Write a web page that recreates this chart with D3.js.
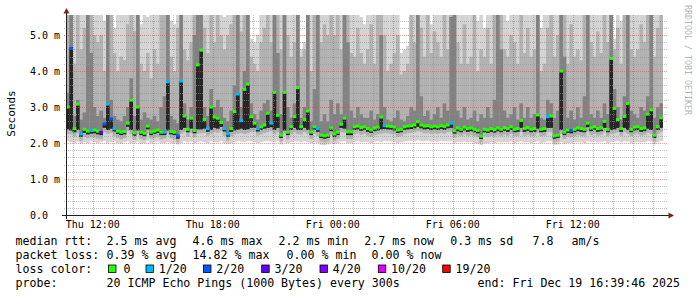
<!DOCTYPE html>
<meta charset="utf-8">
<style>
body { margin: 0; background: #fff; }
text { font-family: "DejaVu Sans Mono", monospace; fill: #000; }
</style>
<svg width="697" height="297" id="chart"></svg>
<script src="https://d3js.org/d3.v7.min.js"></script>
<script>
// 10 minute steps, Thu Dec 18 2025 10:39:46 onwards
var median = [3.00,4.63,2.40,3.08,2.25,2.38,2.33,2.35,2.36,2.33,
  2.30,2.53,3.08,2.67,2.40,2.33,2.30,2.32,2.55,3.19,
  2.28,3.00,2.30,2.27,2.47,2.30,2.33,2.36,2.30,2.30,
  3.70,2.32,2.30,2.20,3.72,2.75,2.38,2.69,2.35,4.17,
  4.58,2.65,2.40,3.00,2.72,2.69,2.57,2.40,2.25,2.40,
  2.87,3.36,2.62,3.49,3.64,2.73,2.55,2.40,2.45,2.50,
  2.83,2.55,3.41,2.77,2.22,3.41,2.30,2.45,2.73,3.54,
  2.45,2.65,2.89,2.30,2.45,2.40,2.22,2.20,2.22,2.42,
  2.25,2.30,2.52,2.69,2.31,2.31,2.45,2.47,2.43,2.45,
  2.40,2.36,2.42,2.44,2.72,2.48,2.47,2.46,2.44,2.36,
  2.38,2.45,2.47,2.48,2.50,2.59,2.50,2.47,2.48,2.45,
  2.47,2.45,2.48,2.46,2.50,2.55,2.34,2.42,2.38,2.44,
  2.40,2.42,2.38,2.35,2.19,2.38,2.36,2.40,2.37,2.42,
  2.38,2.43,2.40,2.45,2.38,2.40,2.63,2.40,2.43,2.38,
  2.40,2.78,2.38,2.40,2.73,2.75,2.20,2.22,4.00,2.30,
  2.36,2.35,2.38,2.42,2.40,2.38,2.55,2.42,2.45,2.40,
  2.42,2.60,2.38,4.35,2.96,2.65,2.40,2.74,3.10,2.38,
  2.44,2.45,2.40,2.42,2.80,2.92,2.22,2.45,2.70];

var loss = [0,2,0,0,1,0,0,1,0,0, 3,2,1,2,1,0,0,0,0,0, 0,0,0,0,0,0,0,0,0,1,
  1,0,0,2,1,0,0,0,0,0, 0,0,1,0,0,0,0,1,1,0, 0,1,1,0,0,0,0,1,0,0,
  0,1,0,0,0,0,0,0,0,0, 0,0,0,0,0,1,0,0,0,0, 0,0,0,0,0,0,0,0,0,0,
  0,0,0,0,0,1,0,0,0,0, 0,0,0,0,0,0,0,0,0,0, 0,0,0,0,0,1,0,0,0,0,
  0,0,0,0,0,0,0,0,0,0, 0,0,0,0,0,0,0,0,0,0, 0,0,0,0,1,0,0,0,0,0,
  0,2,0,0,0,0,0,0,0,0, 0,0,0,0,0,0,0,0,0,0, 0,0,0,0,0,0,0,0,0];

// smoke: ping distribution per step (ms)
var lo = [2.05,2.02,2.0,2.04,1.98,2.03,2.0,2.05,2.02,2.0,
  2.02,2.06,2.0,2.03,2.05,2.0,1.98,2.02,2.05,2.0,
  2.0,2.04,1.98,2.0,2.06,2.0,2.02,2.04,2.0,2.0,
  2.03,2.0,2.0,1.96,2.0,2.05,2.02,2.04,2.0,2.02,
  2.04,2.02,2.0,2.06,2.03,2.02,2.05,2.0,1.97,2.0,
  2.02,2.05,2.04,2.03,2.06,2.05,2.02,2.0,2.03,2.05,
  2.05,2.04,2.02,2.06,1.96,2.03,2.0,2.02,2.05,2.04,
  2.03,2.05,2.02,2.0,2.02,2.0,1.95,1.94,1.96,2.0,
  1.97,2.0,2.04,2.05,2.0,2.0,2.03,2.05,2.02,2.03,
  2.03,2.0,2.04,2.05,2.03,2.06,2.05,2.04,2.03,2.0,
  2.02,2.04,2.05,2.06,2.05,2.07,2.05,2.05,2.06,2.04,
  2.05,2.04,2.06,2.05,2.05,2.06,2.0,2.03,2.02,2.04,
  2.02,2.03,2.0,1.98,1.94,2.0,2.0,2.02,2.0,2.03,
  2.02,2.03,2.02,2.04,2.0,2.02,2.05,2.02,2.03,2.0,
  2.02,2.05,2.0,2.02,2.05,2.05,1.95,1.96,2.03,1.98,
  2.0,2.0,2.02,2.03,2.02,2.0,2.05,2.03,2.04,2.02,
  2.03,2.05,2.0,2.03,2.04,2.05,2.02,2.05,2.04,2.0,
  2.02,2.03,2.02,2.02,2.05,2.04,1.96,2.02,2.05];

var q1 = [2.25,2.24,2.18,2.26,2.06,2.17,2.13,2.16,2.15,2.12,
  2.10,2.30,2.25,2.28,2.20,2.14,2.10,2.13,2.33,2.24,
  2.09,2.24,2.11,2.08,2.26,2.12,2.13,2.17,2.10,2.12,
  2.24,2.13,2.10,2.02,2.25,2.30,2.18,2.28,2.16,2.26,
  2.27,2.28,2.20,2.24,2.30,2.28,2.33,2.20,2.06,2.19,
  2.24,2.26,2.28,2.25,2.27,2.30,2.31,2.21,2.24,2.28,
  2.30,2.33,2.24,2.30,2.04,2.24,2.10,2.24,2.30,2.25,
  2.24,2.30,2.25,2.11,2.25,2.20,2.04,2.02,2.04,2.22,
  2.06,2.11,2.30,2.28,2.11,2.10,2.24,2.27,2.22,2.25,
  2.20,2.17,2.22,2.24,2.26,2.28,2.27,2.25,2.24,2.17,
  2.19,2.25,2.27,2.28,2.30,2.33,2.30,2.27,2.28,2.25,
  2.27,2.25,2.28,2.26,2.30,2.31,2.15,2.22,2.19,2.24,
  2.20,2.22,2.19,2.16,2.01,2.19,2.17,2.20,2.18,2.22,
  2.19,2.23,2.20,2.25,2.19,2.20,2.30,2.20,2.23,2.19,
  2.20,2.28,2.19,2.20,2.30,2.30,2.02,2.04,2.25,2.11,
  2.17,2.16,2.19,2.22,2.20,2.19,2.32,2.22,2.25,2.20,
  2.22,2.30,2.19,2.25,2.27,2.30,2.20,2.30,2.25,2.19,
  2.24,2.25,2.20,2.22,2.28,2.25,2.04,2.25,2.30];

var p45 = [2.38,2.35,2.30,2.36,2.17,2.28,2.24,2.26,2.27,2.24,
  2.22,2.42,2.36,2.40,2.32,2.25,2.22,2.24,2.45,2.36,
  2.20,2.35,2.22,2.19,2.38,2.22,2.25,2.28,2.22,2.22,
  2.35,2.24,2.22,2.12,2.36,2.42,2.30,2.40,2.27,2.38,
  2.38,2.40,2.31,2.36,2.42,2.40,2.45,2.32,2.17,2.31,
  2.35,2.37,2.40,2.36,2.38,2.42,2.42,2.32,2.36,2.40,
  2.42,2.44,2.36,2.42,2.14,2.35,2.22,2.36,2.42,2.36,
  2.36,2.42,2.36,2.22,2.36,2.31,2.14,2.12,2.14,2.33,
  2.17,2.22,2.42,2.40,2.22,2.22,2.36,2.38,2.34,2.36,
  2.31,2.28,2.33,2.35,2.38,2.39,2.38,2.37,2.35,2.28,
  2.30,2.36,2.38,2.39,2.41,2.45,2.41,2.38,2.39,2.36,
  2.38,2.36,2.39,2.37,2.41,2.42,2.26,2.33,2.30,2.35,
  2.31,2.33,2.30,2.27,2.11,2.30,2.28,2.31,2.29,2.33,
  2.30,2.34,2.31,2.36,2.30,2.31,2.42,2.31,2.34,2.30,
  2.31,2.40,2.30,2.31,2.42,2.42,2.12,2.14,2.36,2.22,
  2.28,2.27,2.30,2.33,2.31,2.30,2.44,2.33,2.36,2.31,
  2.33,2.42,2.30,2.36,2.38,2.42,2.31,2.42,2.36,2.30,
  2.35,2.36,2.31,2.33,2.40,2.36,2.14,2.36,2.42];

var q3 = [3.4,6.0,2.75,3.2,2.65,2.85,6.0,4.5,3.0,2.75,
  2.9,2.7,6.0,3.2,2.75,2.65,2.6,2.75,3.0,3.8,
  2.75,6.0,2.65,2.85,2.7,2.65,2.75,2.6,3.0,3.3,
  6.0,2.75,2.65,2.55,6.0,3.1,2.65,3.0,5.0,6.0,
  6.0,3.0,2.75,3.5,3.0,3.2,3.0,2.7,2.6,2.9,
  3.6,6.0,3.0,4.0,6.0,3.1,2.8,2.65,2.9,3.1,
  3.2,2.9,6.0,4.5,2.8,6.0,3.0,2.7,3.1,6.0,
  2.7,3.0,6.0,2.6,3.5,6.0,2.6,2.8,2.6,3.2,
  2.8,3.1,2.8,6.0,4.8,2.9,2.7,3.0,2.8,2.7,
  2.7,2.9,2.65,2.8,5.0,3.0,2.65,2.6,2.7,2.9,
  2.65,2.6,2.75,3.0,2.9,6.0,3.3,2.75,2.9,2.65,
  2.8,3.0,2.7,3.1,2.9,5.5,6.0,2.9,2.7,3.0,
  2.65,2.7,2.9,2.6,2.8,2.7,3.0,2.7,3.2,6.0,
  4.6,2.9,2.7,2.8,3.0,2.65,3.1,2.7,3.0,2.7,
  2.8,6.0,2.7,2.65,3.2,3.1,2.7,2.9,6.0,4.4,
  2.7,2.9,2.65,3.0,2.7,3.3,6.0,2.8,2.7,2.9,
  2.7,3.1,2.8,6.0,3.5,3.0,2.65,3.3,6.0,2.9,
  2.8,2.7,3.0,2.9,3.3,6.0,2.7,3.0,3.1];

var p90 = [6.0,6.0,4.2,6.0,4.6,5.2,6.0,6.0,5.0,4.8,
  5.0,4.0,6.0,6.0,4.5,4.0,4.4,4.3,5.3,6.0,
  5.1,6.0,4.2,4.0,4.5,3.8,4.6,4.2,6.0,6.0,
  6.0,4.4,4.0,5.2,6.0,4.6,4.3,4.8,6.0,6.0,
  6.0,5.2,4.5,6.0,4.8,6.0,5.0,4.6,5.0,5.3,
  6.0,6.0,5.1,6.0,6.0,4.4,4.2,4.0,4.8,5.2,
  6.0,4.8,6.0,6.0,4.6,6.0,5.0,4.4,4.8,6.0,
  4.4,4.6,6.0,4.0,6.0,6.0,4.8,5.3,5.0,6.0,
  5.0,6.0,4.6,6.0,6.0,4.5,4.4,5.2,4.5,4.2,
  4.6,5.3,4.2,6.0,6.0,5.0,4.0,4.2,4.5,5.0,
  3.9,4.0,4.2,6.0,4.8,6.0,5.2,4.4,6.0,4.5,
  5.1,4.8,4.4,6.0,4.6,6.0,6.0,4.8,4.2,5.3,
  4.2,4.4,6.0,4.0,4.6,4.4,5.2,4.2,6.0,6.0,
  6.0,4.6,4.4,5.0,4.8,4.2,6.0,4.5,5.2,4.4,
  4.6,6.0,4.0,4.2,5.2,6.0,4.4,5.0,6.0,6.0,
  4.2,5.3,4.4,4.6,4.3,6.0,6.0,4.8,4.4,5.1,
  4.5,6.0,4.8,6.0,4.6,5.2,4.2,6.0,6.0,4.6,
  4.4,4.6,5.3,4.8,6.0,6.0,4.4,5.2,6.0];

var hi = [6.0,6.0,6.0,6.0,6.0,6.0,6.0,6.0,6.0,6.0,
  6.0,5.4,6.0,6.0,5.2,6.0,6.0,6.0,6.0,6.0,
  6.0,6.0,5.3,6.0,5.5,6.0,6.0,6.0,6.0,6.0,
  6.0,5.4,5.3,6.0,6.0,6.0,6.0,6.0,6.0,6.0,
  6.0,6.0,6.0,6.0,6.0,6.0,6.0,5.5,6.0,6.0,
  6.0,6.0,6.0,6.0,6.0,4.9,4.8,5.0,6.0,6.0,
  6.0,6.0,6.0,6.0,6.0,6.0,6.0,6.0,5.6,6.0,
  4.6,4.8,6.0,6.0,6.0,6.0,6.0,6.0,6.0,6.0,
  6.0,6.0,6.0,6.0,6.0,6.0,6.0,6.0,5.5,5.3,
  6.0,6.0,6.0,6.0,6.0,6.0,6.0,5.8,6.0,6.0,
  4.5,4.6,4.7,6.0,6.0,6.0,6.0,6.0,6.0,5.3,
  6.0,6.0,6.0,6.0,6.0,6.0,6.0,6.0,6.0,6.0,
  5.6,6.0,6.0,5.4,6.0,5.2,6.0,6.0,6.0,6.0,
  6.0,6.0,5.4,6.0,6.0,6.0,6.0,6.0,6.0,6.0,
  6.0,6.0,5.2,6.0,6.0,6.0,6.0,6.0,6.0,6.0,
  6.0,6.0,6.0,6.0,5.6,6.0,6.0,6.0,6.0,6.0,
  6.0,6.0,6.0,6.0,4.9,6.0,5.4,6.0,6.0,6.0,
  6.0,5.8,6.0,6.0,6.0,6.0,6.0,6.0,6.0];

var lossSteps = [0, 1, 2, 3, 4, 10, 19];
var lossLabels = ["0", "1/20", "2/20", "3/20", "4/20", "10/20", "19/20"];
var lossColors = ["#26ff00", "#00b8ff", "#0059ff", "#5e00ff", "#7e00ff", "#dd00ff", "#ff0000"];
var yTicks = [0, 1, 2, 3, 4, 5];
var rttStats = ["2.5 ms avg", "4.6 ms max", "2.2 ms min", "2.7 ms now", "0.3 ms sd", "7.8", "am/s"];
var lossStats = ["0.39 % avg", "14.82 % max", "0.00 % min", "0.00 % now"];
var probeText = "20 ICMP Echo Pings (1000 Bytes) every 300s";
var endText = "end: Fri Dec 19 16:39:46 2025";

var svg = d3.select("#chart");
var start = new Date(Date.UTC(2025, 11, 18, 10, 39, 46));
var end = new Date(Date.UTC(2025, 11, 19, 16, 39, 46));
var step = 600000;

var x = d3.scaleUtc().domain([start, end]).range([66, 666]);
var y = d3.scaleLinear().domain([0, 200 / 36]).range([215, 15]);

svg.append("rect").attr("width", 697).attr("height", 297).attr("fill", "#fff");

svg.append("clipPath").attr("id", "plot")
  .append("rect").attr("x", 66).attr("y", 15).attr("width", 600).attr("height", 200);

var smoke = svg.append("g").attr("clip-path", "url(#plot)");
var cols = median.map(function(m, i) {
  var t = new Date(start.getTime() + i * step);
  return {x0: x(t), x1: x(new Date(t.getTime() + step)), i: i};
});

// smoke layers, widest range lightest
var layers = [
  {a: lo, b: hi, c: "#d3d3d3"},
  {a: q1, b: p90, c: "#b2b2b2"},
  {a: p45, b: q3, c: "#828282"},
  {a: p45, b: median, c: "#262626"}
];
layers.forEach(function(l) {
  smoke.selectAll(null).data(cols).enter().append("rect")
    .attr("x", d => d.x0)
    .attr("width", d => d.x1 - d.x0 + 0.3)
    .attr("y", d => y(l.b[d.i]))
    .attr("height", d => Math.max(0, y(l.a[d.i]) - y(l.b[d.i])))
    .attr("fill", l.c);
});

// grid
var grid = svg.append("g").attr("stroke-dasharray", "1,1").attr("stroke-width", 1);
d3.range(1, 28).forEach(function(k) {
  var v = k / 5;
  var major = k % 5 === 0;
  grid.append("line")
    .attr("x1", 64).attr("x2", 668)
    .attr("y1", Math.round(y(v)) + 0.5).attr("y2", Math.round(y(v)) + 0.5)
    .attr("stroke", major ? "rgba(222,79,79,0.55)" : "rgba(143,143,143,0.55)");
});
d3.utcHour.every(1).range(start, end).forEach(function(t) {
  var major = t.getUTCHours() % 3 === 0;
  var px = Math.round(x(t)) + 0.5;
  grid.append("line")
    .attr("x1", px).attr("x2", px)
    .attr("y1", 15).attr("y2", 219)
    .attr("stroke", major ? "rgba(222,79,79,0.55)" : "rgba(143,143,143,0.55)");
});

// median marks coloured by loss
function lossColor(k) {
  var j = 0;
  lossSteps.forEach(function(s, n) { if (k >= s) j = n; });
  return lossColors[j];
}
svg.append("g").attr("clip-path", "url(#plot)")
  .selectAll("rect").data(cols).enter().append("rect")
  .attr("x", d => d.x0)
  .attr("width", d => d.x1 - d.x0 + 0.3)
  .attr("y", d => y(median[d.i]) - 1.5)
  .attr("height", 3)
  .attr("fill", d => lossColor(loss[d.i]));

// axes
svg.append("line").attr("x1", 66.5).attr("x2", 66.5).attr("y1", 219).attr("y2", 12)
  .attr("stroke", "#1f1f1f");
svg.append("line").attr("x1", 62).attr("x2", 670).attr("y1", 215.5).attr("y2", 215.5)
  .attr("stroke", "#1f1f1f");
svg.append("path").attr("d", "M63.5,13.5L66.5,8L69.5,13.5Z").attr("fill", "#801f1f");
svg.append("path").attr("d", "M668.5,212.5L674,215.5L668.5,218.5Z").attr("fill", "#801f1f");

svg.append("g").selectAll("text").data(yTicks).enter().append("text")
  .attr("x", 30).attr("y", d => y(d) + 4)
  .style("font-size", "10px")
  .text(d => d === 0 ? "0.0" : d.toFixed(1) + " m");

var fmt = d3.utcFormat("%a %H:%M");
svg.append("g").selectAll("text").data(d3.utcHour.every(6).range(start, end)).enter().append("text")
  .attr("x", d => x(d)).attr("y", 227.5)
  .attr("text-anchor", "middle")
  .style("font-size", "10px")
  .text(d => fmt(d));

svg.append("text")
  .attr("transform", "translate(15,113.5) rotate(-90)")
  .attr("text-anchor", "middle")
  .style("font-size", "11px")
  .text("Seconds");

svg.append("text")
  .attr("transform", "translate(684.5,5) rotate(90)")
  .style("font-size", "8.3px")
  .style("fill", "#b4b4b4")
  .text("RRDTOOL / TOBI OETIKER");

// legend
var leg = svg.append("g").style("font-size", "11.6px").attr("xml:space", "preserve");
function put(tx, px, py) {
  leg.append("text").attr("x", px).attr("y", py).text(tx);
}
put("median rtt:", 15.5, 244.5);
[106.6, 192.6, 278.6, 364.3, 450.3, 532.6, 571.6].forEach(function(px, n) {
  put(rttStats[n], px, 244.5);
});
put("packet loss:", 15.5, 258.5);
[106.6, 192.6, 286.6, 371.6].forEach(function(px, n) {
  put(lossStats[n], px, 258.5);
});
put("loss color:", 15.5, 272.5);
[108.5, 146, 203.5, 261.7, 320, 378.3, 442.7].forEach(function(px, n) {
  leg.append("rect").attr("x", px).attr("y", 265).attr("width", 7.5).attr("height", 7.5)
    .attr("fill", lossColors[n]).attr("stroke", "#000").attr("stroke-width", 0.8);
  put(lossLabels[n], px + (n === 0 ? 15 : 12.8), 272.5);
});
put("probe:", 15.5, 286.5);
put(probeText, 106.6, 286.5);
put(endText, 477.6, 286.5);
</script>
